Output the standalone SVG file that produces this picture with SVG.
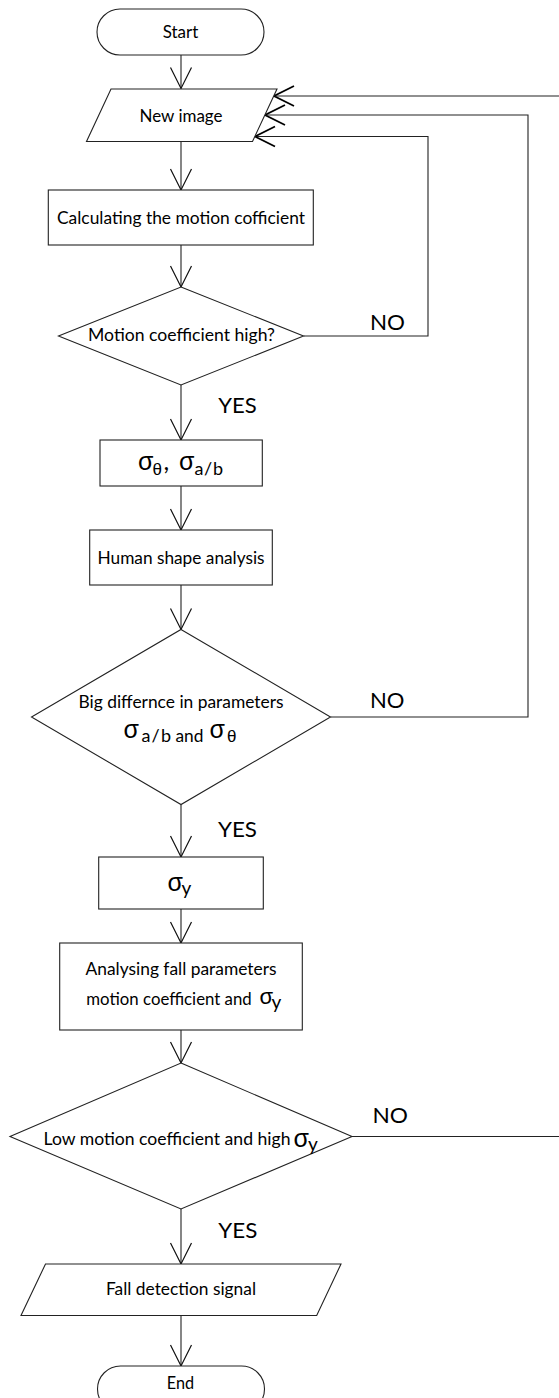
<svg xmlns="http://www.w3.org/2000/svg" width="559" height="1398" viewBox="0 0 559 1398">
<style>
.s{fill:#fff;stroke:#222;stroke-width:1.1}
.c{fill:none;stroke:#222;stroke-width:1.1}
.t{font-family:Lato,"Liberation Sans",Arial,sans-serif;font-size:16.5px;fill:#000;text-anchor:middle}
.l{font-family:Lato,"Liberation Sans",Arial,sans-serif;font-size:21px;fill:#000}
.g{font-family:"Liberation Sans",Arial,sans-serif;fill:#000}
.sub{font-family:Lato,"Liberation Sans",Arial,sans-serif;fill:#000}
</style>
<defs>
<marker id="ah" markerUnits="userSpaceOnUse" markerWidth="26" markerHeight="26" viewBox="-23 -13 26 26" refX="0" refY="0" orient="auto" overflow="visible">
<path d="M-21,-10.5 L0,0 L-21,10.5" fill="none" stroke="#111" stroke-width="1.2"/>
</marker>
<marker id="ahb" markerUnits="userSpaceOnUse" markerWidth="26" markerHeight="26" viewBox="-23 -13 26 26" refX="0" refY="0" orient="auto" overflow="visible">
<path d="M-20,-10 L0,0 L-20,10" fill="none" stroke="#000" stroke-width="1.8"/>
</marker>
</defs>

<g id="connectors">
<path class="c" d="M181,55 V88.5" marker-end="url(#ah)"/>
<path class="c" d="M181,141.5 V190" marker-end="url(#ah)"/>
<path class="c" d="M181,245 V287" marker-end="url(#ah)"/>
<path class="c" d="M181,385 V440" marker-end="url(#ah)"/>
<path class="c" d="M181,486 V530" marker-end="url(#ah)"/>
<path class="c" d="M181,585 V629.5" marker-end="url(#ah)"/>
<path class="c" d="M181,804.5 V857" marker-end="url(#ah)"/>
<path class="c" d="M181,909 V943" marker-end="url(#ah)"/>
<path class="c" d="M181,1030 V1063" marker-end="url(#ah)"/>
<path class="c" d="M181,1209 V1264" marker-end="url(#ah)"/>
<path class="c" d="M181,1315.5 V1366" marker-end="url(#ah)"/>
<path class="c" d="M303.5,336 H428 V136.5 H255" marker-end="url(#ahb)"/>
<path class="c" d="M330.5,717 H528 V115 H265" marker-end="url(#ahb)"/>
<path class="c" d="M352,1136.5 H562 V96 H274" marker-end="url(#ahb)"/>
</g>

<g id="start">
<rect class="s" x="97" y="9" width="167" height="46" rx="23" ry="23"/>
<text class="t" x="180.5" y="38" textLength="35.6" lengthAdjust="spacingAndGlyphs">Start</text>
</g>

<g id="new_image">
<polygon class="s" points="111,89 277,89 252.5,141.5 86.5,141.5"/>
<text class="t" x="181" y="122" textLength="83" lengthAdjust="spacingAndGlyphs">New image</text>
</g>

<g id="calc_motion">
<rect class="s" x="48.3" y="190" width="265" height="55"/>
<text class="t" x="181" y="223.5" textLength="248" lengthAdjust="spacingAndGlyphs">Calculating the motion cofficient</text>
</g>

<g id="motion_high">
<polygon class="s" points="181,287 303.5,336 181,385 58.5,336"/>
<text class="t" x="181.5" y="341" textLength="187" lengthAdjust="spacingAndGlyphs">Motion coefficient high?</text>
</g>

<g id="sigma_theta_ab">
<rect class="s" x="100" y="440" width="162.3" height="46"/>
<text><tspan class="g" x="138" y="470" font-size="25">σ</tspan><tspan class="g" x="152.5" y="475" font-size="17">θ</tspan><tspan class="sub" x="163.5" y="470" font-size="25">,</tspan><tspan class="g" x="179" y="470" font-size="25">σ</tspan><tspan class="sub" x="194.5" y="475" font-size="18" textLength="28.5" lengthAdjust="spacing">a/b</tspan></text>
</g>

<g id="human_shape">
<rect class="s" x="89.7" y="530" width="182.6" height="55"/>
<text class="t" x="181" y="563.5" textLength="167" lengthAdjust="spacingAndGlyphs">Human shape analysis</text>
</g>

<g id="big_difference">
<polygon class="s" points="181,629.5 330.5,717 181,804.5 31.5,717"/>
<text class="t" x="181" y="708" textLength="205" lengthAdjust="spacingAndGlyphs">Big differnce in parameters</text>
<text><tspan class="g" x="123.5" y="737.5" font-size="25">σ</tspan><tspan class="sub" x="141.5" y="742" font-size="18" textLength="29.5" lengthAdjust="spacing">a/b</tspan><tspan class="sub" x="175.5" y="742" font-size="18" textLength="28" lengthAdjust="spacingAndGlyphs">and</tspan><tspan class="g" x="209.5" y="737.5" font-size="25">σ</tspan><tspan class="g" x="227" y="742" font-size="17">θ</tspan></text>
</g>

<g id="sigma_y">
<rect class="s" x="98.7" y="857" width="164.6" height="52"/>
<text><tspan class="g" x="167.5" y="890.5" font-size="25">σ</tspan><tspan class="sub" x="181.5" y="894.5" font-size="19">y</tspan></text>
</g>

<g id="analysing">
<rect class="s" x="59.7" y="943" width="242.6" height="87"/>
<text class="t" x="181" y="975" textLength="191" lengthAdjust="spacingAndGlyphs">Analysing fall parameters</text>
<text class="t" style="text-anchor:start" x="86.3" y="1005" textLength="165.4" lengthAdjust="spacingAndGlyphs">motion coefficient and</text>
<text><tspan class="g" x="259.5" y="1004" font-size="22">σ</tspan><tspan class="sub" x="271.5" y="1008.5" font-size="19">y</tspan></text>
</g>

<g id="low_motion">
<polygon class="s" points="181,1063 352,1136.5 181,1209 10,1136.5"/>
<text class="t" style="text-anchor:start" x="43.5" y="1145" textLength="247" lengthAdjust="spacingAndGlyphs">Low motion coefficient and high</text>
<text><tspan class="g" x="293.5" y="1147" font-size="25">σ</tspan><tspan class="sub" x="308" y="1151" font-size="19">y</tspan></text>
</g>

<g id="fall_signal">
<polygon class="s" points="45.5,1264 341,1264 316.7,1315.5 21,1315.5"/>
<text class="t" x="181" y="1295" textLength="150" lengthAdjust="spacingAndGlyphs">Fall detection signal</text>
</g>

<g id="end">
<rect class="s" x="97.5" y="1366" width="167" height="46" rx="23" ry="23"/>
<text class="t" x="180.5" y="1388.5" textLength="27.3" lengthAdjust="spacingAndGlyphs">End</text>
</g>

<g id="labels">
<text class="l" x="370" y="330" textLength="35" lengthAdjust="spacingAndGlyphs">NO</text>
<text class="l" x="218.3" y="412.5" textLength="38.5" lengthAdjust="spacingAndGlyphs">YES</text>
<text class="l" x="370" y="708" textLength="34.5" lengthAdjust="spacingAndGlyphs">NO</text>
<text class="l" x="218" y="836.5" textLength="39" lengthAdjust="spacingAndGlyphs">YES</text>
<text class="l" x="372.5" y="1123" textLength="35.5" lengthAdjust="spacingAndGlyphs">NO</text>
<text class="l" x="218.3" y="1237.5" textLength="39" lengthAdjust="spacingAndGlyphs">YES</text>
</g>
</svg>
